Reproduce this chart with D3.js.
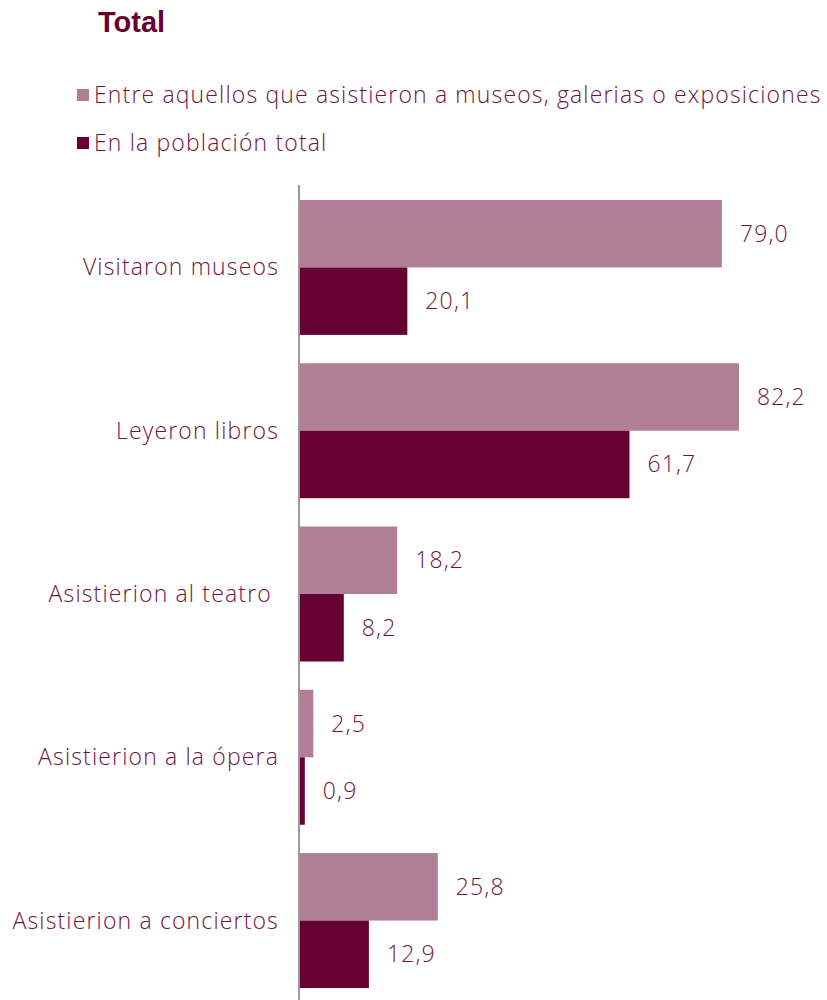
<!DOCTYPE html>
<html><head><meta charset="utf-8">
<script src="https://cdn.jsdelivr.net/npm/d3@7"></script>
<style>body{margin:0;background:#fff}</style>
</head><body>
<script>
const categories = ["Visitaron museos","Leyeron libros","Asistierion al teatro ","Asistierion a la ópera","Asistierion a conciertos"];
const seriesNames = ["Entre aquellos que asistieron a museos, galerias o exposiciones","En la población total"];
const serieMuseos = [79.0, 82.2, 18.2, 2.5, 25.8];
const serieTotal = [20.1, 61.7, 8.2, 0.9, 12.9];
const colors = ["#b07f96", "#660033"];
const title = "Total";

const W = 827, H = 1000;
const textColor = "#6e1440";
const font = "'Open Sans', sans-serif";
const fs = 23, ls = 1.15;
const svg = d3.select("body").append("svg").attr("width", W).attr("height", H);

svg.append("text").attr("x", 98).attr("y", 32).text(title)
  .attr("font-family", "'Liberation Sans', Arial, sans-serif").attr("font-weight", "bold")
  .attr("font-size", 29).attr("letter-spacing", 0).attr("fill", "#660033");

const legY = [95, 143];
seriesNames.forEach((n, i) => {
  svg.append("rect").attr("x", 77).attr("y", legY[i] - 6).attr("width", 12).attr("height", 12).attr("fill", colors[i]);
  svg.append("text").attr("x", 94).attr("y", legY[i]).attr("dy", "0.35em").text(n)
    .attr("font-family", font).attr("font-weight", 300).attr("font-size", fs).attr("letter-spacing", ls).attr("fill", textColor);
});

const x = d3.scaleLinear().domain([0, 100]).range([300, 834]);
const y0 = d3.scaleBand().domain(categories).range([185.8, 1002.2]).paddingInner(0.1735).paddingOuter(0.0867);
const y1 = d3.scaleBand().domain([0, 1]).range([0, y0.bandwidth()]);

const data = categories.map((c, i) => ({c, vals: [serieMuseos[i], serieTotal[i]]}));
const g = svg.append("g");
const grp = g.selectAll("g.cat").data(data).join("g").attr("transform", d => `translate(0,${y0(d.c)})`);
grp.selectAll("rect").data(d => d.vals.map((v, k) => ({v, k}))).join("rect")
  .attr("x", x(0)).attr("y", d => y1(d.k)).attr("width", d => x(d.v) - x(0)).attr("height", y1.bandwidth())
  .attr("fill", d => colors[d.k]);
grp.selectAll("text.val").data(d => d.vals.map((v, k) => ({v, k}))).join("text").attr("class", "val")
  .attr("x", d => x(d.v) + 18).attr("y", d => y1(d.k) + y1.bandwidth() / 2).attr("dy", "0.35em")
  .text(d => d.v.toFixed(1).replace(".", ","))
  .attr("font-family", font).attr("font-weight", 300).attr("font-size", fs).attr("letter-spacing", ls).attr("fill", textColor);

svg.append("g").selectAll("text").data(categories).join("text")
  .attr("x", 279).attr("y", d => y0(d) + y0.bandwidth() / 2).attr("dy", "0.35em").attr("text-anchor", "end")
  .attr("xml:space", "preserve").style("white-space", "pre")
  .text(d => d).attr("font-family", font).attr("font-weight", 300).attr("font-size", fs).attr("letter-spacing", ls).attr("fill", textColor);

svg.append("line").attr("x1", 299).attr("x2", 299).attr("y1", 185).attr("y2", 1000)
  .attr("stroke", "#999").attr("stroke-width", 2);
</script>
</body></html>
